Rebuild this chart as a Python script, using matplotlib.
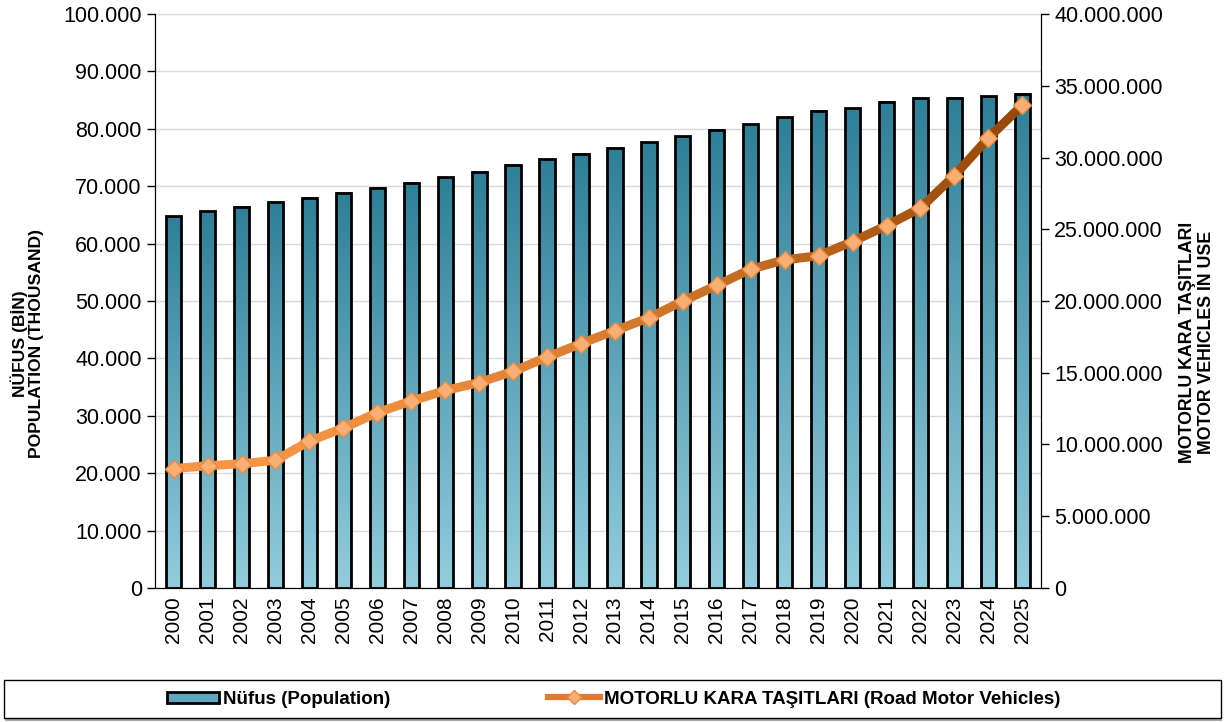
import numpy as np
import matplotlib.pyplot as plt
from matplotlib.collections import LineCollection
from matplotlib.colors import LinearSegmentedColormap, to_rgb
from matplotlib.patches import Rectangle
from matplotlib.ticker import FuncFormatter
from matplotlib.lines import Line2D
from matplotlib.legend_handler import HandlerPatch

plt.rcParams['font.family'] = ['Liberation Sans', 'DejaVu Sans']

# data
years = [str(y) for y in range(2000, 2026)]
population = [64729, 65603, 66401, 67188, 68010, 68861, 69730, 70586, 71517, 72561,
              73723, 74724, 75627, 76668, 77696, 78741, 79815, 80811, 82004, 83155,
              83615, 84680, 85280, 85373, 85665, 86100]
vehicles = [8320449, 8521956, 8655170, 8903843, 10236357, 11145826, 12227393, 13022945,
            13765395, 14316700, 15095603, 16089528, 17033413, 17939447, 18828721,
            19994472, 21090424, 22218945, 22865921, 23156975, 24144857, 25249119,
            26482656, 28745000, 31360000, 33650000]

bar_dark = '#2E7F98'
bar_light = '#93CDDD'
line_start = '#F79646'
line_end = '#984807'

def dots(v, pos=None):
    return f"{int(round(v)):,}".replace(",", ".")

fig = plt.figure(figsize=(12.27, 7.22), dpi=100)
ax = fig.add_axes([0.1263, 0.1856, 0.7221, 0.795])
ax2 = ax.twinx()

x = np.arange(len(years))
w = 0.45
bar_cmap = LinearSegmentedColormap.from_list('bar', [bar_light, bar_dark])
grad = np.linspace(0, 1, 256).reshape(-1, 1)
bars = ax.bar(x, population, width=w, color='none', edgecolor='black', linewidth=2, zorder=3)
for b in bars:
    x0, y0 = b.get_x(), b.get_y()
    ax.imshow(grad, cmap=bar_cmap, origin='lower', aspect='auto',
              extent=[x0, x0 + b.get_width(), y0, y0 + b.get_height()], zorder=2)

ax.set_xlim(-0.55, len(years) - 0.45)
ax.set_ylim(0, 100000)
ax.set_yticks(np.arange(0, 100001, 10000))
ax.yaxis.set_major_formatter(FuncFormatter(dots))
ax.set_xticks(x)
ax.set_xticklabels(years, rotation=90, fontsize=15)
ax.tick_params(axis='x', length=0, pad=6)
ax.tick_params(axis='y', labelsize=15.5, length=6, width=1, direction='out')
ax.grid(axis='y', color='#D9D9D9', linewidth=1, zorder=0)
ax.set_axisbelow(True)
ax.spines['top'].set_visible(False)
ax2.spines['top'].set_visible(False)

# line with gradient
ax2.set_ylim(0, 40000000)
ax2.set_yticks(np.arange(0, 40000001, 5000000))
ax2.yaxis.set_major_formatter(FuncFormatter(dots))
ax2.tick_params(axis='y', labelsize=15.5, length=6, width=1, direction='out')
pts = np.column_stack([x, vehicles])
segs = np.stack([pts[:-1], pts[1:]], axis=1)
c0, c1 = np.array(to_rgb(line_start)), np.array(to_rgb(line_end))
t = np.linspace(0, 1, len(segs)) ** 1.6
cols = [tuple(c0 + (c1 - c0) * ti) for ti in t]
lc = LineCollection(segs, colors=cols, linewidths=6.5, capstyle='round', joinstyle='round', zorder=4)
ax2.add_collection(lc)
ax2.plot(x, vehicles, linestyle='none', marker='D', markersize=9,
         markerfacecolor='#F9AE74', markeredgecolor='#EE8A3E', markeredgewidth=1, zorder=5)
ax2.set_xlim(ax.get_xlim())

fig.text(0.022, 0.524, 'NÜFUS (BİN)\nPOPULATION (THOUSAND)', fontsize=12.6,
         fontweight='bold', rotation=90, ha='center', va='center', ma='center', linespacing=1.12)
fig.text(0.9755, 0.526, 'MOTORLU KARA TAŞITLARI\nMOTOR VEHICLES IN USE', fontsize=12.8,
         fontweight='bold', rotation=90, ha='center', va='center', ma='center', linespacing=1.12)

# legend
fig.patches.append(Rectangle((0.004, 0.002), 0.992, 0.053, transform=fig.transFigure,
                             facecolor='#A6A6A6', edgecolor='none'))
fig.patches.append(Rectangle((0.003, 0.005), 0.992, 0.053, transform=fig.transFigure,
                             facecolor='white', edgecolor='black', linewidth=1))

class GradBarHandler(HandlerPatch):
    def create_artists(self, legend, orig, xd, yd, width, height, fontsize, trans):
        r = Rectangle((-xd, -yd + height * 0.1), width, height * 0.8, facecolor='#5FA7BE',
                      edgecolor='black', linewidth=2, transform=trans)
        return [r]

bar_handle = Rectangle((0, 0), 1, 1)
line_handle = Line2D([], [], color='#E07B30', linewidth=4.5, marker='D', markersize=7,
                     markerfacecolor='#F9AE74', markeredgecolor='#EE8A3E')
fig.legend([bar_handle, line_handle],
           ['Nüfus (Population)', 'MOTORLU KARA TAŞITLARI (Road Motor Vehicles)'],
           handler_map={Rectangle: GradBarHandler()},
           loc='center', bbox_to_anchor=(0.5, 0.0315), ncol=2, frameon=False,
           prop={'weight': 'bold', 'size': 13.5}, handlelength=2.8, handletextpad=0.2,
           columnspacing=8.4)

fig.savefig('out.png', dpi=100)
